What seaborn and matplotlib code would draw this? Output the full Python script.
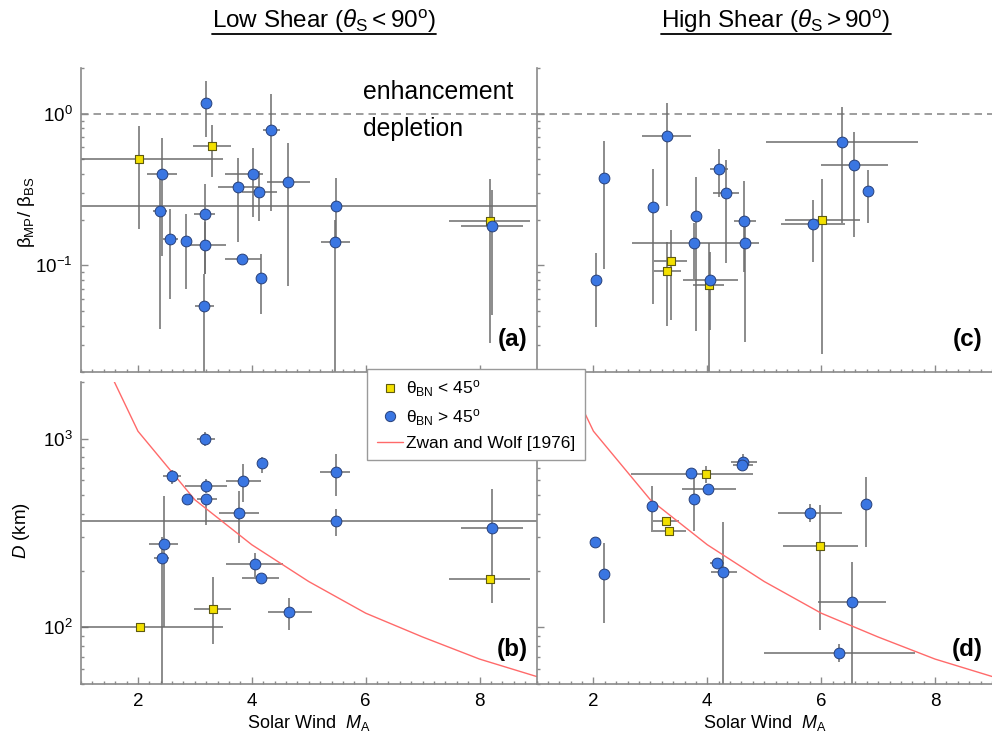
import numpy as np
import pandas as pd
import matplotlib
matplotlib.use("Agg")
import matplotlib.pyplot as plt
from matplotlib.lines import Line2D
from matplotlib.ticker import MultipleLocator, FixedLocator, LogLocator, NullFormatter
import seaborn as sns

# ---------------------------------------------------------------- data
# Panel (a): low shear, beta_MP / beta_BS versus solar-wind Alfven Mach number
a_q_ma = [2.01, 3.30, 8.18]
a_q_ma_lo = [0.50, 2.96, 7.46]
a_q_ma_hi = [3.50, 3.63, 8.89]
a_q_val = [0.503, 0.609, 0.197]
a_q_val_lo = [0.174, 0.381, 0.031]
a_q_val_hi = [0.834, 0.847, 0.372]

a_p_ma = [3.20, 4.34, 2.42, 2.39, 2.57, 2.84, 3.18, 3.17, 3.16, 3.75, 4.02, 4.13, 4.64, 5.47, 5.46, 3.83, 4.17, 8.22]
a_p_ma_lo = [3.20, 4.19, 2.16, 2.26, 2.44, 2.77, 2.99, 2.85, 3.00, 3.41, 3.53, 3.82, 4.26, 0.00, 5.21, 3.53, 4.10, 7.68]
a_p_ma_hi = [3.20, 4.49, 2.69, 2.51, 2.71, 2.92, 3.35, 3.54, 3.33, 4.11, 4.19, 4.44, 5.03, 10.0, 5.72, 4.17, 4.25, 8.76]
a_p_val = [1.17, 0.781, 0.403, 0.229, 0.150, 0.1445, 0.217, 0.137, 0.0537, 0.327, 0.403, 0.307, 0.357, 0.248, 0.143, 0.111, 0.083, 0.181]
a_p_val_lo = [0.706, 0.230, 0.116, 0.0383, 0.060, 0.0703, 0.088, 0.088, 0.010, 0.142, 0.208, 0.196, 0.073, 0.150, 0.010, 0.105, 0.048, 0.047]
a_p_val_hi = [1.63, 1.35, 0.688, 0.400, 0.236, 0.219, 0.344, 0.193, 0.088, 0.511, 0.595, 0.422, 0.641, 0.377, 0.200, 0.117, 0.119, 0.315]

# Panel (b): low shear, thickness D (km)
b_q_ma = [2.03, 3.31, 8.18]
b_q_ma_lo = [0.50, 2.98, 7.47]
b_q_ma_hi = [3.50, 3.64, 8.89]
b_q_val = [100, 125, 181]
b_q_val_lo = [100, 82, 181]
b_q_val_hi = [100, 184, 181]

b_p_ma = [3.18, 4.18, 2.59, 3.19, 2.86, 3.19, 3.85, 3.77, 5.47, 5.48, 8.22, 2.45, 2.42, 4.05, 4.16, 4.65]
b_p_ma_lo = [3.04, 4.10, 2.44, 2.82, 2.86, 3.03, 3.54, 3.42, 5.20, 0.00, 7.68, 2.19, 2.28, 3.54, 3.83, 4.28]
b_p_ma_hi = [3.35, 4.26, 2.75, 3.56, 2.86, 3.38, 4.17, 4.12, 5.73, 10.0, 8.76, 2.71, 2.54, 4.55, 4.47, 5.05]
b_p_val = [996, 743, 637, 561, 480, 480, 598, 403, 663, 364, 338, 275, 234, 216, 182, 121]
b_p_val_lo = [910, 658, 577, 515, 480, 349, 464, 279, 495, 306, 134, 100, 40, 186, 175, 97]
b_p_val_hi = [1080, 796, 684, 611, 480, 480, 735, 525, 832, 424, 541, 497, 300, 249, 190, 144]

# Panel (c): high shear, beta_MP / beta_BS
c_q_ma = [3.36, 3.30, 4.03, 6.02]
c_q_ma_lo = [3.07, 3.07, 3.74, 5.37]
c_q_ma_hi = [3.65, 3.53, 4.30, 6.69]
c_q_val = [0.107, 0.0914, 0.0738, 0.199]
c_q_val_lo = [0.044, 0.040, 0.010, 0.0262]
c_q_val_hi = [0.170, 0.142, 0.140, 0.372]

c_p_ma = [2.05, 2.19, 3.29, 3.04, 4.20, 4.32, 3.80, 4.65, 3.76, 4.67, 4.05, 6.37, 6.58, 6.83, 5.85]
c_p_ma_lo = [2.05, 2.19, 2.86, 2.97, 4.05, 4.10, 3.74, 4.46, 2.67, 4.60, 3.58, 5.03, 5.99, 6.78, 5.29]
c_p_ma_hi = [2.05, 2.19, 3.72, 3.14, 4.37, 4.55, 3.86, 4.85, 4.91, 4.74, 4.54, 7.70, 7.18, 6.88, 6.42]
c_p_val = [0.0805, 0.375, 0.709, 0.244, 0.433, 0.302, 0.211, 0.197, 0.141, 0.141, 0.0805, 0.651, 0.457, 0.308, 0.188]
c_p_val_lo = [0.0393, 0.095, 0.248, 0.0554, 0.281, 0.103, 0.037, 0.090, 0.082, 0.0313, 0.0377, 0.190, 0.153, 0.190, 0.105]
c_p_val_hi = [0.121, 0.658, 1.17, 0.433, 0.586, 0.498, 0.385, 0.359, 0.190, 0.190, 0.122, 1.11, 0.761, 0.426, 0.268]

# Panel (d): high shear, thickness D (km)
d_q_ma = [3.98, 3.28, 3.33, 5.98]
d_q_ma_lo = [2.66, 3.05, 3.05, 5.33]
d_q_ma_hi = [4.81, 3.50, 3.62, 6.64]
d_q_val = [652, 366, 325, 271]
d_q_val_lo = [582, 366, 325, 97.5]
d_q_val_hi = [720, 366, 325, 443]

d_p_ma = [2.02, 2.18, 3.02, 3.72, 3.76, 4.02, 4.63, 4.61, 4.17, 4.28, 5.81, 6.78, 6.54, 6.32]
d_p_ma_lo = [2.02, 2.18, 2.95, 3.65, 3.70, 3.55, 4.42, 4.45, 4.05, 4.07, 5.25, 6.78, 5.95, 4.99]
d_p_ma_hi = [2.02, 2.18, 3.10, 3.80, 3.82, 4.50, 4.87, 4.80, 4.30, 4.52, 6.37, 6.78, 7.13, 7.65]
d_p_val = [285, 193, 441, 654, 478, 538, 755, 721, 220, 197, 406, 450, 137, 73.6]
d_p_val_lo = [285, 105, 322, 654, 326, 538, 684, 721, 220, 40, 361, 268, 45, 65.6]
d_p_val_hi = [285, 279, 558, 654, 631, 538, 832, 721, 220, 362, 452, 627, 223, 81.5]

# Zwan and Wolf [1976] depletion-layer thickness
zw_ma = [1.5, 2.0, 3.0, 4.0, 5.0, 6.0, 7.0, 8.0, 9.0]
zw_d = [2260, 1094, 474, 274, 175, 119, 89, 68, 55]

x_ticks = [2, 4, 6, 8]
panel_tags = ["(a)", "(b)", "(c)", "(d)"]

# ---------------------------------------------------------------- style
sns.set_theme(style="ticks")
plt.rcParams["font.family"] = ["Liberation Sans", "DejaVu Sans"]
plt.rcParams["mathtext.fontset"] = "custom"
plt.rcParams["mathtext.rm"] = "Liberation Sans"
plt.rcParams["mathtext.it"] = "Liberation Sans:italic"
plt.rcParams["mathtext.bf"] = "Liberation Sans:bold"
plt.rcParams["text.color"] = "black"
plt.rcParams["axes.labelcolor"] = "black"
plt.rcParams["xtick.labelcolor"] = "black"
plt.rcParams["ytick.labelcolor"] = "black"

BLUE = "#3a76e2"
BLUE_EDGE = "#27407a"
YELLOW = "#f3e000"
YELLOW_EDGE = "#5e5a10"
ERR = "#6c6c6c"
SPINE = "#8a8a8a"
ZW_RED = "#ff6a6a"

W, H = 992, 740
fig = plt.figure(figsize=(W / 100, H / 100), dpi=100)


def frame(left, top, width, height):
    return fig.add_axes([left / W, 1 - (top + height) / H, width / W, height / H])


ax_a = frame(81, 68, 455.5, 303.5)
ax_c = frame(536.5, 68, 455.5, 303.5)
ax_b = frame(81, 381.7, 455.5, 302.6)
ax_d = frame(536.5, 381.7, 455.5, 302.6)


def draw_group(ax, ma, lo_x, hi_x, val, lo_v, hi_v, kind):
    ma = np.asarray(ma, float)
    val = np.asarray(val, float)
    xerr = [ma - np.asarray(lo_x), np.asarray(hi_x) - ma]
    yerr = [val - np.asarray(lo_v), np.asarray(hi_v) - val]
    ax.errorbar(ma, val, xerr=xerr, yerr=yerr, fmt="none", ecolor=ERR,
                elinewidth=1.1, capsize=0, zorder=2)
    df = pd.DataFrame({"ma": ma, "val": val})
    if kind == "q":
        sns.scatterplot(data=df, x="ma", y="val", ax=ax, marker="s", s=34,
                        color=YELLOW, edgecolor=YELLOW_EDGE, linewidth=0.8,
                        zorder=3, legend=False)
    else:
        sns.scatterplot(data=df, x="ma", y="val", ax=ax, marker="o", s=60,
                        color=BLUE, edgecolor=BLUE_EDGE, linewidth=0.7,
                        zorder=3, legend=False)


for ax in (ax_a, ax_b, ax_c, ax_d):
    ax.set_yscale("log")

draw_group(ax_a, a_q_ma, a_q_ma_lo, a_q_ma_hi, a_q_val, a_q_val_lo, a_q_val_hi, "q")
draw_group(ax_a, a_p_ma, a_p_ma_lo, a_p_ma_hi, a_p_val, a_p_val_lo, a_p_val_hi, "p")
draw_group(ax_b, b_q_ma, b_q_ma_lo, b_q_ma_hi, b_q_val, b_q_val_lo, b_q_val_hi, "q")
draw_group(ax_b, b_p_ma, b_p_ma_lo, b_p_ma_hi, b_p_val, b_p_val_lo, b_p_val_hi, "p")
draw_group(ax_c, c_q_ma, c_q_ma_lo, c_q_ma_hi, c_q_val, c_q_val_lo, c_q_val_hi, "q")
draw_group(ax_c, c_p_ma, c_p_ma_lo, c_p_ma_hi, c_p_val, c_p_val_lo, c_p_val_hi, "p")
draw_group(ax_d, d_q_ma, d_q_ma_lo, d_q_ma_hi, d_q_val, d_q_val_lo, d_q_val_hi, "q")
draw_group(ax_d, d_p_ma, d_p_ma_lo, d_p_ma_hi, d_p_val, d_p_val_lo, d_p_val_hi, "p")

zw = pd.DataFrame({"ma": zw_ma, "d": zw_d})
for ax in (ax_b, ax_d):
    sns.lineplot(data=zw, x="ma", y="d", ax=ax, color=ZW_RED, linewidth=1.0,
                 zorder=2.5, legend=False)

for ax in (ax_a, ax_c):
    ax.axhline(1.0, color="#8c8c8c", lw=1.2, ls=(0, (4.5, 3)), zorder=1)
    ax.set_ylim(0.02, 2.0)
for ax in (ax_b, ax_d):
    ax.set_ylim(50, 2000)

for ax, tag in zip((ax_a, ax_b, ax_c, ax_d), panel_tags):
    ax.set_xlim(1, 9)
    ax.set_xlabel("")
    ax.set_ylabel("")
    ax.xaxis.set_major_locator(FixedLocator(x_ticks))
    ax.xaxis.set_minor_locator(MultipleLocator(0.2))
    ax.yaxis.set_major_locator(LogLocator(base=10))
    ax.yaxis.set_minor_locator(LogLocator(base=10, subs=np.arange(2, 10)))
    ax.yaxis.set_minor_formatter(NullFormatter())
    for side in ("top", "right"):
        ax.spines[side].set_visible(False)
    for side in ("left", "bottom"):
        ax.spines[side].set_color(SPINE)
        ax.spines[side].set_linewidth(1.2)
    ax.tick_params(which="both", direction="in", color=SPINE, width=1.0,
                   labelsize=13.5, labelcolor="black", pad=6)
    ax.tick_params(which="major", length=5)
    ax.tick_params(which="minor", length=2.5)
    ax.set_facecolor("none")
    ax.text(1 - 9 / 455.5, 0.085 if ax in (ax_a, ax_c) else 0.095, tag,
            transform=ax.transAxes, ha="right", va="baseline",
            fontsize=17.5, fontweight="bold", color="black")

for ax in (ax_a, ax_c):
    ax.tick_params(axis="x", labelbottom=False)
for ax in (ax_c, ax_d):
    ax.tick_params(axis="y", labelleft=False)

for ax in (ax_b, ax_d):
    ax.set_xlabel(r"Solar Wind  $\mathit{M}_{\mathrm{A}}$", fontsize=13)
    ax.xaxis.set_label_coords(0.5, -0.095)

ax_a.set_ylabel(r"$\mathrm{β}_{\mathrm{MP}}$/ $\mathrm{β}_{\mathrm{BS}}$", fontsize=13.5)
ax_a.yaxis.set_label_coords(-0.097, 0.525)
ax_b.set_ylabel(r"$\mathit{D}$ (km)", fontsize=13.5)
ax_b.yaxis.set_label_coords(-0.108, 0.51)

ax_a.text(0.619, 0.897, "enhancement", transform=ax_a.transAxes,
          fontsize=17.8, ha="left", va="baseline", color="black")
ax_a.text(0.619, 0.776, "depletion", transform=ax_a.transAxes,
          fontsize=17.8, ha="left", va="baseline", color="black")

# column headings, underlined
titles = [
    (324, r"Low Shear ($\mathit{θ}_{\mathrm{S}} < 90^{\mathrm{o}}$)"),
    (776, r"High Shear ($\mathit{θ}_{\mathrm{S}} > 90^{\mathrm{o}}$)"),
]
title_texts = []
for xc, label in titles:
    t = fig.text(xc / W, 1 - 28 / H, label, ha="center", va="baseline",
                 fontsize=17.5, color="black")
    title_texts.append(t)

handles = [
    Line2D([], [], ls="none", marker="s", markersize=5.4, markerfacecolor=YELLOW,
           markeredgecolor=YELLOW_EDGE, markeredgewidth=0.8),
    Line2D([], [], ls="none", marker="o", markersize=7.4, markerfacecolor=BLUE,
           markeredgecolor=BLUE_EDGE, markeredgewidth=0.7),
    Line2D([], [], color=ZW_RED, lw=1.0),
]
labels = [
    r"$\mathrm{θ}_{\mathrm{BN}}$ < 45$^{\mathrm{o}}$",
    r"$\mathrm{θ}_{\mathrm{BN}}$ > 45$^{\mathrm{o}}$",
    "Zwan and Wolf [1976]",
]
leg = fig.legend(handles, labels, loc="upper left",
                 bbox_to_anchor=(367 / W, 1 - 369 / H),
                 bbox_transform=fig.transFigure, borderaxespad=0,
                 fontsize=12.5, handlelength=1.5, handletextpad=0.2,
                 borderpad=0.55, labelspacing=0.45, frameon=True,
                 fancybox=False, framealpha=1, edgecolor="#9a9a9a")
leg.get_frame().set_linewidth(1.0)
for txt in leg.get_texts():
    txt.set_color("black")

fig.canvas.draw()
renderer = fig.canvas.get_renderer()
for t in title_texts:
    bb = t.get_window_extent(renderer)
    y = 1 - 34 / H
    fig.add_artist(Line2D([bb.x0 / W, bb.x1 / W], [y, y], color="black",
                          lw=1.3, transform=fig.transFigure))

fig.savefig("out.png", dpi=100)
